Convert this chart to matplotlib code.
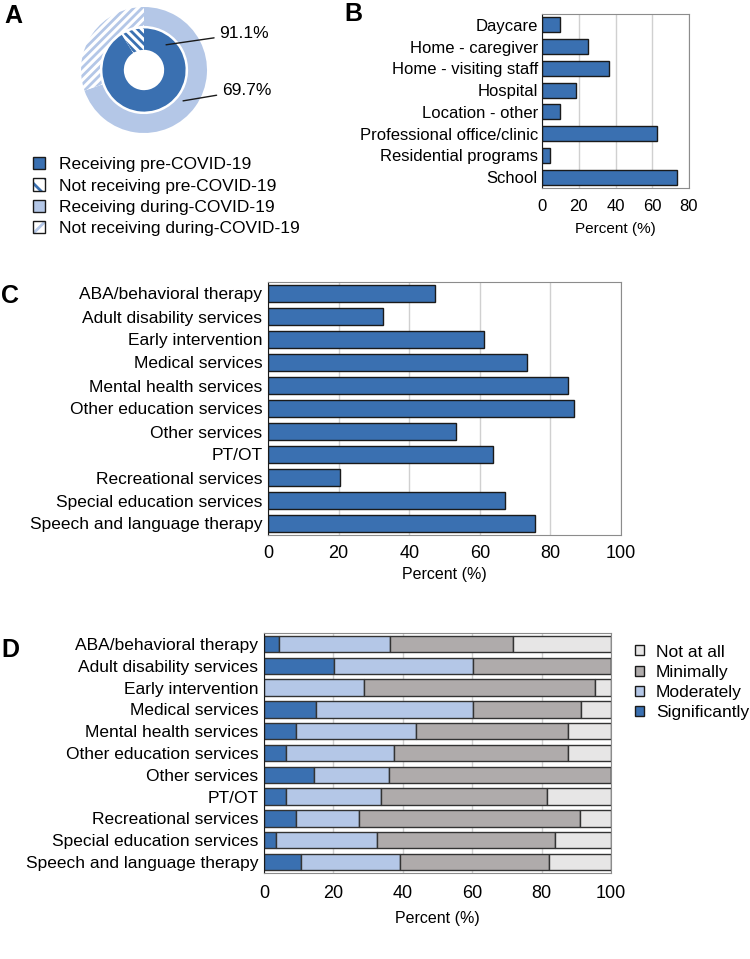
import numpy as np
import matplotlib.pyplot as plt
from matplotlib.patches import Patch
from matplotlib.legend_handler import HandlerTuple

plt.rcParams['font.family'] = ['Liberation Sans', 'DejaVu Sans']
plt.rcParams['hatch.linewidth'] = 2.0

dark = '#3A70B1'
light = '#B4C7E7'
gray = '#AFABAB'
pale = '#E7E6E6'
edge = '#1A1A1A'

# panel A
pre_pct = [91.1, 8.9]
during_pct = [69.7, 30.3]
a_labels = ['Receiving pre-COVID-19', 'Not receiving pre-COVID-19',
            'Receiving during-COVID-19', 'Not receiving during-COVID-19']

# panel B
locations = ['Daycare', 'Home - caregiver', 'Home - visiting staff', 'Hospital',
             'Location - other', 'Professional office/clinic', 'Residential programs', 'School']
location_pct = [10.0, 25.1, 36.7, 18.4, 10.0, 62.5, 4.2, 73.5]

# panel C / D
services = ['ABA/behavioral therapy', 'Adult disability services', 'Early intervention',
            'Medical services', 'Mental health services', 'Other education services',
            'Other services', 'PT/OT', 'Recreational services', 'Special education services',
            'Speech and language therapy']
service_pct = [47.4, 32.7, 61.3, 73.4, 85.1, 86.7, 53.2, 63.8, 20.4, 67.1, 75.7]

levels = ['Significantly', 'Moderately', 'Minimally', 'Not at all']
significantly = [4.3, 20.2, 0.0, 14.9, 9.3, 6.4, 14.4, 6.4, 9.3, 3.5, 10.6]
moderately = [31.9, 40.0, 28.7, 45.3, 34.5, 31.2, 21.6, 27.4, 18.1, 29.0, 28.6]
minimally = [35.7, 39.8, 66.8, 31.1, 43.7, 49.9, 64.0, 47.8, 63.6, 51.3, 42.9]
not_at_all = [28.1, 0.0, 4.5, 8.7, 12.5, 12.5, 0.0, 18.4, 9.0, 16.2, 17.9]

W, H = 750, 959
fig = plt.figure(figsize=(W / 100, H / 100), dpi=100)


def box(l, t, r, b):
    return [l / W, 1 - b / H, (r - l) / W, (b - t) / H]


def style_bar_axes(ax):
    ax.grid(axis='x', color='#D0D0D0', linewidth=1)
    ax.set_axisbelow(True)
    for s in ['top', 'right', 'bottom']:
        ax.spines[s].set_color('#8C8C8C')
    ax.spines['left'].set_color(edge)
    ax.tick_params(length=0)


# ---- A ----
axA = fig.add_axes(box(74, 0, 214, 140))
outer, _ = axA.pie(during_pct, radius=1, startangle=90, counterclock=False,
                   wedgeprops=dict(width=0.30, linewidth=0))
outer[0].set_facecolor(light)
outer[1].set_facecolor('white')
outer[1].set_edgecolor(light)
outer[1].set_hatch('////')
inner, _ = axA.pie(pre_pct, radius=0.66, startangle=90, counterclock=False,
                   wedgeprops=dict(width=0.34, linewidth=0))
inner[0].set_facecolor(dark)
inner[1].set_facecolor('white')
inner[1].set_edgecolor(dark)
inner[1].set_hatch('\\\\\\\\')
axA.set_xlim(-70 / 63, 70 / 63)
axA.set_ylim(-70 / 63, 70 / 63)
axA.set_aspect('equal')
axA.axis('off')
axA.annotate('91.1%', xy=(0.35, 0.40), xytext=(1.20, 0.58), fontsize=12.5,
             va='center', ha='left', annotation_clip=False,
             arrowprops=dict(arrowstyle='-', color=edge, lw=1, shrinkA=2, shrinkB=0))
axA.annotate('69.7%', xy=(0.62, -0.49), xytext=(1.24, -0.32), fontsize=12.5,
             va='center', ha='left', annotation_clip=False,
             arrowprops=dict(arrowstyle='-', color=edge, lw=1, shrinkA=2, shrinkB=0))

hA = [Patch(facecolor=dark, edgecolor=edge),
      (Patch(facecolor='white', edgecolor=dark, hatch='\\\\', linewidth=0),
       Patch(facecolor='none', edgecolor=edge)),
      Patch(facecolor=light, edgecolor=edge),
      (Patch(facecolor='white', edgecolor=light, hatch='//', linewidth=0),
       Patch(facecolor='none', edgecolor=edge))]
fig.legend(hA, a_labels, loc='upper left', bbox_to_anchor=(26 / W, 1 - 150 / H),
           frameon=False, fontsize=12.5, handlelength=0.7, handleheight=0.7,
           labelspacing=0.36, handletextpad=0.8, borderaxespad=0,
           handler_map={tuple: HandlerTuple(ndivide=1)})

# ---- B ----
axB = fig.add_axes(box(542, 14, 689, 188))
yB = np.arange(len(locations))
axB.barh(yB, location_pct, height=0.7, color=dark, edgecolor=edge, linewidth=1)
axB.set_ylim(len(locations) - 0.5, -0.5)
axB.set_xlim(0, 80)
axB.set_xticks(np.arange(0, 81, 20))
axB.set_yticks(yB)
axB.set_yticklabels(locations, fontsize=12)
axB.tick_params(axis='x', labelsize=12, pad=8)
axB.tick_params(axis='y', pad=3)
axB.set_xlabel('Percent (%)', fontsize=11, labelpad=6)
style_bar_axes(axB)

# ---- C ----
axC = fig.add_axes(box(268, 282, 621, 535))
yC = np.arange(len(services))
axC.barh(yC, service_pct, height=0.72, color=dark, edgecolor=edge, linewidth=1)
axC.set_ylim(len(services) - 0.5, -0.5)
axC.set_xlim(0, 100)
axC.set_xticks(np.arange(0, 101, 20))
axC.set_yticks(yC)
axC.set_yticklabels(services, fontsize=12.5)
axC.tick_params(axis='x', labelsize=13, pad=7)
axC.tick_params(axis='y', pad=4)
axC.set_xlabel('Percent (%)', fontsize=11.5, labelpad=4)
style_bar_axes(axC)

# ---- D ----
axD = fig.add_axes(box(264, 633, 611, 873))
yD = np.arange(len(services))
left = np.zeros(len(services))
for vals, col in zip([significantly, moderately, minimally, not_at_all],
                     [dark, light, gray, pale]):
    axD.barh(yD, vals, left=left, height=0.75, color=col, edgecolor='#333333',
             linewidth=1)
    left += np.array(vals)
axD.set_ylim(len(services) - 0.5, -0.5)
axD.set_xlim(0, 100)
axD.set_xticks(np.arange(0, 101, 20))
axD.set_yticks(yD)
axD.set_yticklabels(services, fontsize=12.5)
axD.tick_params(axis='x', labelsize=13, pad=9)
axD.tick_params(axis='y', pad=4)
axD.set_xlabel('Percent (%)', fontsize=11.5, labelpad=6)
style_bar_axes(axD)
hD = [Patch(facecolor=c, edgecolor=edge) for c in [pale, gray, light, dark]]
axD.legend(hD, levels[::-1], loc='upper left', bbox_to_anchor=(1.07, 0.952),
           frameon=False, fontsize=12.5, handlelength=0.5, handleheight=0.5,
           labelspacing=0.3, handletextpad=0.7, borderaxespad=0, borderpad=0)

# panel letters
for lab, x, y in [('A', 4, 4), ('B', 344, 2), ('C', 1, 284), ('D', 1, 638)]:
    fig.text(x / W, 1 - y / H, lab, fontsize=18, fontweight='bold', va='top', ha='left')

fig.savefig('out.png', dpi=100)
